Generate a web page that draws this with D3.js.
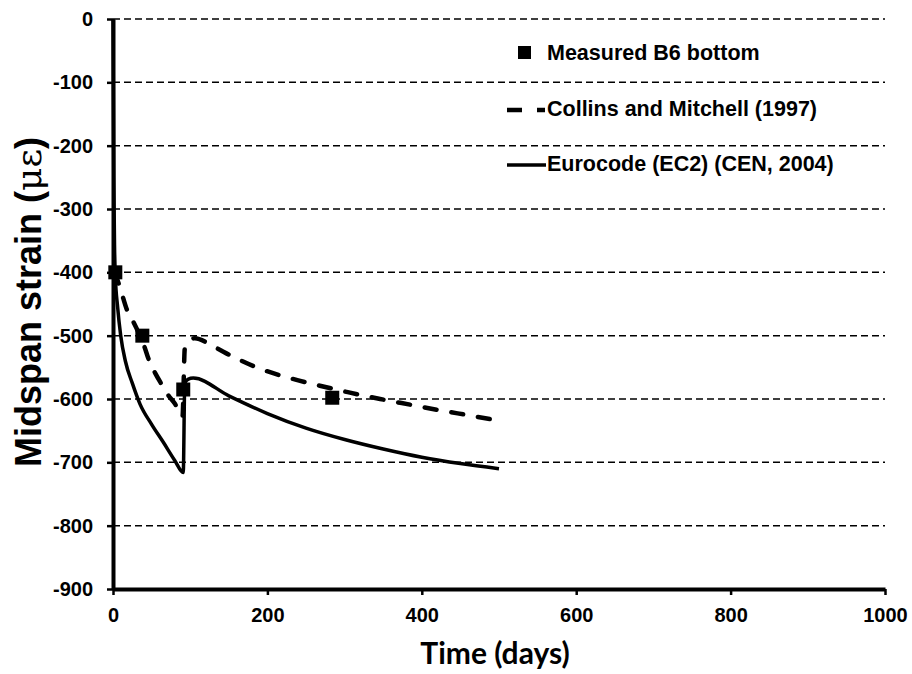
<!DOCTYPE html>
<html>
<head>
<meta charset="utf-8">
<script src="https://cdn.jsdelivr.net/npm/d3@7"></script>
<style>
  body { margin: 0; background: #fff; }
  text { font-family: "Liberation Sans", Arial, sans-serif; font-weight: bold; fill: #000; }
</style>
</head>
<body>
<div id="chart"></div>
<script>
// Data
const measuredDays = [3, 38, 91, 284];
const measuredStrain = [-400, -500, -585, -598];

const collinsDays = [2, 8, 13, 18, 25, 33, 40, 47, 55, 63, 71, 80, 90, 93, 97, 106, 130, 155, 190, 229, 268, 307, 346, 385, 424, 462, 499];
const collinsStrain = [-400, -420, -440, -459, -475, -495, -515, -540, -560, -577, -593, -607, -628, -520, -510, -504, -517, -533, -552, -567, -579, -590, -600, -609, -618, -626, -634];

const ecDays = [0, 1, 2, 3, 6, 10, 16, 25, 35, 50, 65, 80, 91, 93, 97, 104, 150, 200, 250, 300, 350, 400, 450, 500];
const ecStrain = [0, -250, -360, -405, -455, -500, -540, -575, -608, -640, -668, -697, -716, -575, -569, -567, -595, -623, -646, -664, -679, -692, -702, -710];

const xTicks = [0, 200, 400, 600, 800, 1000];
const yTicks = [0, -100, -200, -300, -400, -500, -600, -700, -800, -900];

const width = 912, height = 674;
const margin = {top: 19, right: 27, bottom: 85, left: 113};

const svg = d3.select("#chart")
    .append("svg")
    .attr("width", width)
    .attr("height", height);

const x = d3.scaleLinear()
    .domain([0, 1000])
    .range([margin.left, width - margin.right]);

const y = d3.scaleLinear()
    .domain([-900, 0])
    .range([height - margin.bottom, margin.top]);

// Gridlines
svg.append("g")
    .selectAll("line")
    .data(yTicks.filter(d => d !== -900))
    .join("line")
    .attr("x1", x(0))
    .attr("x2", x(1000))
    .attr("y1", d => y(d))
    .attr("y2", d => y(d))
    .attr("stroke", "#000")
    .attr("stroke-width", 1.5)
    .attr("stroke-dasharray", "7,4");

// Axes
const xAxis = svg.append("g")
    .attr("transform", `translate(0,${y(-900)})`)
    .call(d3.axisBottom(x).tickValues(xTicks).tickFormat(d => String(d))
        .tickSize(6).tickPadding(13).tickSizeOuter(0));
xAxis.select(".domain").attr("stroke-width", 4);
xAxis.selectAll(".tick line").attr("stroke-width", 2.5);
xAxis.selectAll(".tick text")
    .style("font-family", "'Liberation Sans', Arial, sans-serif")
    .style("font-size", "20px")
    .style("font-weight", "bold");

const yAxis = svg.append("g")
    .attr("transform", `translate(${x(0)},0)`)
    .call(d3.axisLeft(y).tickValues(yTicks).tickFormat(d => String(d))
        .tickSize(6).tickPadding(14).tickSizeOuter(0));
yAxis.select(".domain").attr("stroke-width", 4);
yAxis.selectAll(".tick line").attr("stroke-width", 2.5);
yAxis.selectAll(".tick text")
    .style("font-family", "'Liberation Sans', Arial, sans-serif")
    .style("font-size", "20px")
    .style("font-weight", "bold");

// Lines
const line = d3.line()
    .x(d => x(d[0]))
    .y(d => y(d[1]))
    .curve(d3.curveMonotoneX);

svg.append("path")
    .datum(collinsDays.map((d, i) => [d, collinsStrain[i]]))
    .attr("fill", "none")
    .attr("stroke", "#000")
    .attr("stroke-width", 4.5)
    .attr("stroke-linecap", "round")
    .attr("stroke-dasharray", "12,15")
    .attr("d", line);

svg.append("path")
    .datum(ecDays.map((d, i) => [d, ecStrain[i]]))
    .attr("fill", "none")
    .attr("stroke", "#000")
    .attr("stroke-width", 3.5)
    .attr("stroke-linejoin", "round")
    .attr("d", line);

// Measured points
svg.append("g")
    .selectAll("rect")
    .data(measuredDays.map((d, i) => [d, measuredStrain[i]]))
    .join("rect")
    .attr("x", d => x(d[0]) - 7)
    .attr("y", d => y(d[1]) - 7)
    .attr("width", 14)
    .attr("height", 14)
    .attr("fill", "#000");

// Legend
const legend = svg.append("g");
legend.append("rect")
    .attr("x", 518).attr("y", 46).attr("width", 13).attr("height", 13)
    .attr("fill", "#000");
legend.append("text")
    .attr("x", 547).attr("y", 60)
    .style("font-size", "21.5px")
    .text("Measured B6 bottom");

legend.append("line")
    .attr("x1", 507).attr("x2", 545).attr("y1", 110).attr("y2", 110)
    .attr("stroke", "#000").attr("stroke-width", 4.5)
    .attr("stroke-dasharray", "15,15");
legend.append("text")
    .attr("x", 547).attr("y", 116)
    .style("font-size", "21.5px")
    .text("Collins and Mitchell (1997)");

legend.append("line")
    .attr("x1", 507).attr("x2", 546).attr("y1", 165).attr("y2", 165)
    .attr("stroke", "#000").attr("stroke-width", 3.5);
legend.append("text")
    .attr("x", 547).attr("y", 171)
    .style("font-size", "21.5px")
    .text("Eurocode (EC2) (CEN, 2004)");

// Axis titles
svg.append("text")
    .attr("x", 495)
    .attr("y", 664)
    .attr("text-anchor", "middle")
    .style("font-family", "Lato, 'Open Sans', sans-serif")
    .style("font-size", "30px")
    .text("Time (days)");

const yTitle = svg.append("text")
    .attr("transform", `translate(41,302) rotate(-90)`)
    .attr("text-anchor", "middle")
    .style("font-size", "36px");
yTitle.append("tspan").text("Midspan strain (");
yTitle.append("tspan").style("font-weight", "normal").style("font-family", "'DejaVu Serif', serif").text("μ");
yTitle.append("tspan").style("font-weight", "normal").style("font-family", "'DejaVu Serif', serif").text("ε");
yTitle.append("tspan").text(")");
</script>
</body>
</html>
